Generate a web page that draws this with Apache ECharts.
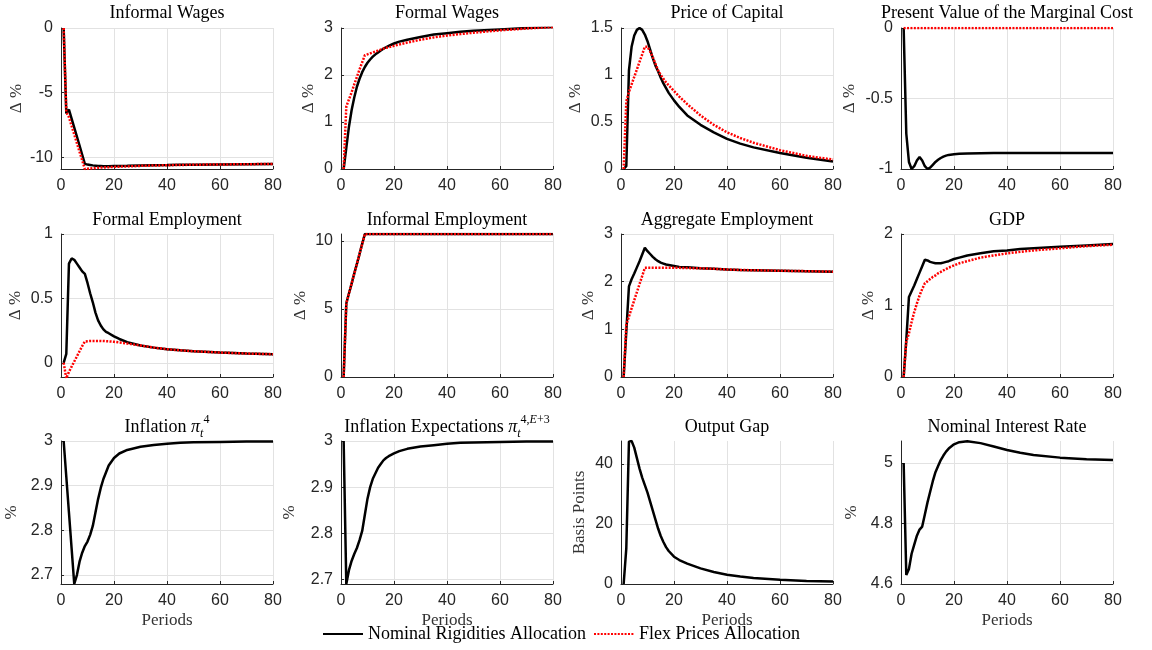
<!DOCTYPE html>
<html><head><meta charset="utf-8">
<script src="https://cdn.jsdelivr.net/npm/echarts@6/dist/echarts.min.js"></script>
<style>html,body{margin:0;padding:0;background:#fff}#c{width:1152px;height:650px}</style>
</head><body><div id="c"></div>
<script>
// ---------- data ----------
const periods = [1,2,3,4,5,6,7,8,9,10,11,12,13,14,15,16,17,18,20,22,25,30,35,40,45,50,60,70,80];
const xTicks = [0,20,40,60,80];

const informalWagesNominal = [0,-6.6,-6.3,-7.0,-7.7,-8.4,-9.1,-9.8,-10.5,-10.56,-10.59,-10.62,-10.64,-10.66,-10.67,-10.68,-10.68,-10.68,-10.67,-10.66,-10.65,-10.63,-10.61,-10.6,-10.58,-10.57,-10.55,-10.53,-10.51];
const informalWagesFlex    = [0,-6.5,-6.9,-7.57,-8.23,-8.9,-9.57,-10.23,-10.9,-10.88,-10.86,-10.84,-10.82,-10.8,-10.79,-10.78,-10.77,-10.76,-10.74,-10.72,-10.7,-10.66,-10.63,-10.61,-10.59,-10.57,-10.55,-10.53,-10.51];
const informalWagesTicks = [-10,-5,0];

const formalWagesNominal = [0,0.45,0.9,1.25,1.52,1.75,1.92,2.06,2.17,2.26,2.33,2.39,2.44,2.48,2.52,2.56,2.59,2.62,2.67,2.71,2.75,2.81,2.86,2.89,2.92,2.94,2.97,3.0,3.02];
const formalWagesFlex    = [0,1.33,1.48,1.63,1.8,1.96,2.12,2.27,2.42,2.44,2.46,2.48,2.5,2.52,2.54,2.56,2.58,2.59,2.62,2.65,2.69,2.75,2.8,2.84,2.87,2.9,2.95,2.99,3.02];
const formalWagesTicks = [0,1,2,3];

const priceCapitalNominal = [0,0.03,1.05,1.3,1.42,1.48,1.5,1.48,1.43,1.36,1.27,1.18,1.1,1.04,0.97,0.91,0.86,0.81,0.73,0.66,0.57,0.47,0.39,0.32,0.27,0.23,0.17,0.12,0.08];
const priceCapitalFlex    = [0,0.72,0.82,0.9,0.98,1.06,1.14,1.22,1.3,1.3,1.25,1.19,1.12,1.05,1.0,0.96,0.92,0.89,0.83,0.77,0.69,0.57,0.47,0.39,0.33,0.28,0.2,0.14,0.1];
const priceCapitalTicks = [0,0.5,1,1.5];

const marginalCostNominal = [0,-0.75,-0.95,-1.0,-0.98,-0.94,-0.915,-0.94,-0.98,-1.0,-0.99,-0.97,-0.95,-0.935,-0.922,-0.912,-0.905,-0.9,-0.895,-0.892,-0.89,-0.888,-0.887,-0.887,-0.887,-0.887,-0.887,-0.887,-0.887];
const marginalCostFlex    = [0,0,0,0,0,0,0,0,0,0,0,0,0,0,0,0,0,0,0,0,0,0,0,0,0,0,0,0,0];
const marginalCostTicks = [-1,-0.5,0];

const formalEmploymentNominal = [0,0.07,0.77,0.81,0.8,0.77,0.74,0.71,0.69,0.62,0.54,0.47,0.39,0.33,0.29,0.26,0.24,0.23,0.205,0.185,0.16,0.135,0.118,0.106,0.097,0.09,0.08,0.072,0.067];
const formalEmploymentFlex    = [0,-0.12,-0.07,-0.03,0.01,0.05,0.09,0.13,0.165,0.168,0.17,0.17,0.17,0.17,0.17,0.169,0.168,0.167,0.163,0.158,0.15,0.135,0.118,0.106,0.097,0.09,0.08,0.072,0.067];
const formalEmploymentTicks = [0,0.5,1];

const informalEmploymentNominal = [0,5.4,6.13,6.86,7.59,8.31,9.04,9.77,10.5,10.5,10.5,10.5,10.5,10.5,10.5,10.5,10.5,10.5,10.5,10.5,10.5,10.5,10.5,10.5,10.5,10.5,10.5,10.5,10.5];
const informalEmploymentFlex    = [0,5.4,6.13,6.86,7.59,8.31,9.04,9.77,10.5,10.5,10.5,10.5,10.5,10.5,10.5,10.5,10.5,10.5,10.5,10.5,10.5,10.5,10.5,10.5,10.5,10.5,10.5,10.5,10.5];
const informalEmploymentTicks = [0,5,10];

const aggregateEmploymentNominal = [0,0.95,1.9,2.05,2.17,2.3,2.43,2.57,2.71,2.64,2.58,2.52,2.47,2.43,2.4,2.38,2.36,2.35,2.33,2.31,2.3,2.28,2.27,2.255,2.245,2.24,2.23,2.22,2.21];
const aggregateEmploymentFlex    = [0,1.1,1.27,1.44,1.61,1.78,1.95,2.12,2.29,2.29,2.29,2.29,2.29,2.29,2.29,2.29,2.29,2.29,2.29,2.29,2.285,2.28,2.27,2.255,2.245,2.24,2.23,2.22,2.21];
const aggregateEmploymentTicks = [0,1,2,3];

const gdpNominal = [0,0.52,1.12,1.2,1.28,1.37,1.46,1.55,1.64,1.63,1.61,1.6,1.59,1.59,1.59,1.6,1.61,1.62,1.65,1.67,1.7,1.73,1.76,1.77,1.79,1.8,1.82,1.84,1.86];
const gdpFlex    = [0,0.5,0.61,0.77,0.91,1.03,1.14,1.23,1.31,1.34,1.37,1.4,1.42,1.45,1.47,1.49,1.51,1.53,1.56,1.59,1.62,1.67,1.7,1.73,1.75,1.77,1.8,1.83,1.85];
const gdpTicks = [0,1,2];

const inflationNominal = [3.0,2.92,2.84,2.76,2.68,2.7,2.73,2.75,2.765,2.775,2.79,2.81,2.84,2.87,2.895,2.915,2.93,2.945,2.962,2.972,2.98,2.987,2.991,2.994,2.996,2.997,2.998,2.999,2.999];
const inflationTicks = [2.7,2.8,2.9,3];

const inflationExpNominal = [3.0,2.69,2.72,2.74,2.755,2.768,2.785,2.805,2.84,2.875,2.9,2.918,2.93,2.942,2.95,2.958,2.963,2.967,2.973,2.978,2.983,2.988,2.991,2.994,2.996,2.997,2.998,2.999,2.999];
const inflationExpTicks = [2.7,2.8,2.9,3];

const outputGapNominal = [0,11.9,47.5,47.7,45.5,42,38.5,35.5,33,30.5,27.5,24.5,21.5,18.5,16,14,12.3,11,9.1,8,6.8,5.2,4,3.1,2.5,2,1.4,1.0,0.8];
const outputGapTicks = [0,20,40];

const interestNominal = [5.0,4.63,4.65,4.7,4.73,4.76,4.78,4.79,4.83,4.87,4.905,4.94,4.97,4.99,5.01,5.025,5.038,5.048,5.062,5.069,5.072,5.066,5.055,5.043,5.034,5.027,5.018,5.013,5.01];
const interestTicks = [4.6,4.8,5];

const seriesNames = ['Nominal Rigidities Allocation','Flex Prices Allocation'];

// ---------- panels ----------
const panels = [
  {title:'Informal Wages', yName:'Δ %', gap:36, min:-10.9, max:0, ticks:informalWagesTicks, nom:informalWagesNominal, flex:informalWagesFlex},
  {title:'Formal Wages', yName:'Δ %', gap:24, min:0, max:3, ticks:formalWagesTicks, nom:formalWagesNominal, flex:formalWagesFlex},
  {title:'Price of Capital', yName:'Δ %', gap:37, min:0, max:1.5, ticks:priceCapitalTicks, nom:priceCapitalNominal, flex:priceCapitalFlex},
  {title:'Present Value of the Marginal Cost', yName:'Δ %', gap:43, min:-1, max:0, ticks:marginalCostTicks, nom:marginalCostNominal, flex:marginalCostFlex},
  {title:'Formal Employment', yName:'Δ %', gap:37, min:-0.11, max:1, ticks:formalEmploymentTicks, nom:formalEmploymentNominal, flex:formalEmploymentFlex},
  {title:'Informal Employment', yName:'Δ %', gap:32, min:0, max:10.5, ticks:informalEmploymentTicks, nom:informalEmploymentNominal, flex:informalEmploymentFlex},
  {title:'Aggregate Employment', yName:'Δ %', gap:24, min:0, max:3, ticks:aggregateEmploymentTicks, nom:aggregateEmploymentNominal, flex:aggregateEmploymentFlex},
  {title:'GDP', yName:'Δ %', gap:24, min:0, max:2, ticks:gdpTicks, nom:gdpNominal, flex:gdpFlex},
  {title:'Inflation {pi|π}{sb|t}{sp|4}', rich:true, yName:'%', gap:41, min:2.68, max:3, ticks:inflationTicks, nom:inflationNominal},
  {title:'Inflation Expectations {pi|π}{sb|t}{sp|4,}{spi|E}{sp|+3}', rich:true, yName:'%', gap:43, min:2.69, max:3, ticks:inflationExpTicks, nom:inflationExpNominal},
  {title:'Output Gap', yName:'Basis Points', gap:33, min:0, max:47.7, ticks:outputGapTicks, nom:outputGapNominal},
  {title:'Nominal Interest Rate', yName:'%', gap:41, min:4.6, max:5.073, ticks:interestTicks, nom:interestNominal}
];

const lefts = [61,341,621,901], tops = [28,234,441], heights = [141,143,143], W = 212;
const titleTops = [3,210,417];
const SERIF = 'Liberation Serif', SANS = 'Liberation Sans', AX = '#262626', GRID = '#e2e2e2';

const richStyles = {
  pi:{fontFamily:SERIF,fontSize:18,fontStyle:'italic',color:'#000',verticalAlign:'middle'},
  sb:{fontFamily:SERIF,fontSize:12,fontStyle:'italic',color:'#000',verticalAlign:'bottom'},
  sp:{fontFamily:SERIF,fontSize:12,color:'#000',verticalAlign:'top'},
  spi:{fontFamily:SERIF,fontSize:12,fontStyle:'italic',color:'#000',verticalAlign:'top'}
};

const legendBase = {padding:0, itemWidth:40, itemHeight:14, itemStyle:{opacity:0},
  textStyle:{fontFamily:SERIF,fontSize:18,color:'#000'}};

const option = {animation:false, backgroundColor:'#fff', title:[], grid:[], xAxis:[], yAxis:[], series:[],
  legend:[
    Object.assign({data:[seriesNames[0]], left:322, top:625}, legendBase),
    Object.assign({data:[seriesNames[1]], left:593, top:625}, legendBase)
  ]};

panels.forEach((p,i)=>{
  const col = i%4, row = Math.floor(i/4);
  option.grid.push({left:lefts[col], top:tops[row], width:W, height:heights[row]});
  option.title.push({
    text:p.title, left:lefts[col]+W/2, top: p.rich ? titleTops[row]-3 : titleTops[row], textAlign:'center', padding:0,
    textStyle:{fontFamily:SERIF,fontSize:18,fontWeight:'normal',color:'#000',lineHeight: p.rich?26:20, rich: richStyles}
  });
  option.xAxis.push({
    type:'value', gridIndex:i, min:0, max:80, interval:20,
    name: row===2 ? 'Periods' : '', nameLocation:'middle', nameGap:28,
    nameTextStyle:{fontFamily:SERIF,fontSize:17,color:'#333'},
    axisLine:{show:true,onZero:false,lineStyle:{color:AX,width:1}},
    axisTick:{show:true,inside:true,length:3,lineStyle:{color:AX}},
    axisLabel:{margin:9,color:AX,fontFamily:SANS,fontSize:16},
    splitLine:{show:true,lineStyle:{color:GRID,width:1}}
  });
  option.yAxis.push({
    type:'value', gridIndex:i, min:p.min, max:p.max,
    name:p.yName, nameLocation:'middle', nameGap:p.gap,
    nameTextStyle:{fontFamily:SERIF,fontSize:17,color:'#333'},
    axisLine:{show:true,onZero:false,lineStyle:{color:AX,width:1}},
    axisTick:{show:true,inside:true,length:3,lineStyle:{color:AX},customValues:p.ticks},
    axisLabel:{margin:8,color:AX,fontFamily:SANS,fontSize:16,customValues:p.ticks},
    splitLine:{show:true,lineStyle:{color:GRID,width:1}}
  });
  option.series.push({
    type:'line', name:seriesNames[0], xAxisIndex:i, yAxisIndex:i, symbol:'none', z:3,
    data: periods.map((x,k)=>[x,p.nom[k]]),
    itemStyle:{color:'#000'}, lineStyle:{color:'#000',width:2.5}
  });
  if (p.flex) option.series.push({
    type:'line', name:seriesNames[1], xAxisIndex:i, yAxisIndex:i, symbol:'none', z:4,
    data: periods.map((x,k)=>[x,p.flex[k]]),
    itemStyle:{color:'#ff0000'}, lineStyle:{color:'#ff0000',width:2.5,type:[2,1.4]}
  });
});

const chart = echarts.init(document.getElementById('c'), null, {renderer:'canvas'});
chart.setOption(option);
</script>
</body></html>
